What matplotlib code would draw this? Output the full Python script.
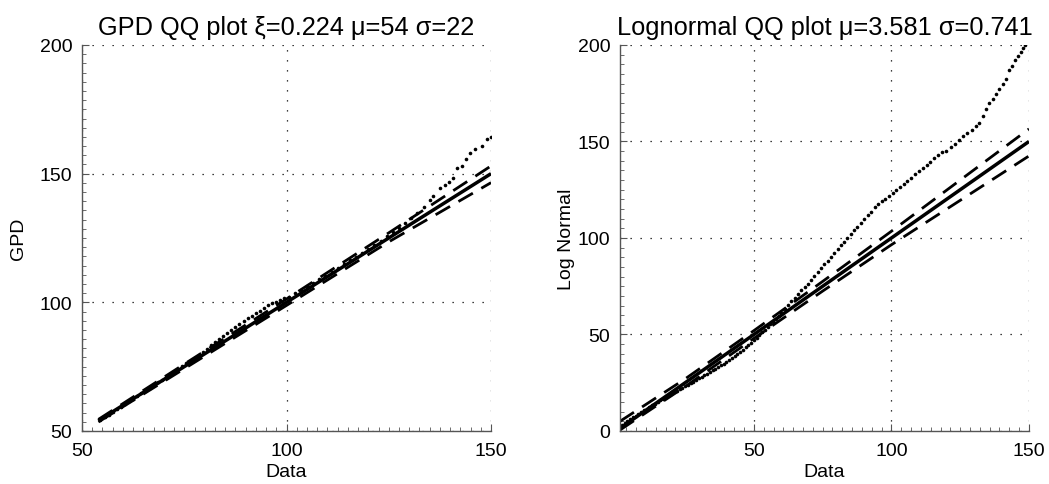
import matplotlib
matplotlib.use('Agg')
import matplotlib.pyplot as plt
from matplotlib.ticker import AutoMinorLocator

plt.rcParams['font.family'] = ['Liberation Sans', 'DejaVu Sans']

# GPD QQ plot: data quantiles vs fitted GPD quantiles
gpd_x = [54.5, 55.5, 56.5, 57.5, 58.5, 59.5, 60.5, 61.5, 62.5, 63.5, 64.5, 65.5,
         66.5, 67.5, 68.5, 69.5, 70.5, 71.5, 72.5, 73.5, 74.5, 75.5, 76.5, 77.5,
         78.5, 79.5, 80.5, 81.5, 82.5, 83.5, 84.5, 85.5, 86.5, 87.5, 88.5, 89.5,
         90.5, 91.5, 92.5, 93.5, 94.5, 95.5, 96.5, 97.5, 98.5, 99.5, 100.5, 102,
         103.5, 105, 106.5, 108, 109.5, 111, 112.5, 114, 115.5, 117, 118.5, 120,
         121.5, 123, 124.5, 126, 127.5, 129, 130.5, 132, 133.5, 135, 135.9, 137.5,
         138.8, 139.8, 140.8, 141.8, 142.8, 143.9, 144.9, 146.1, 147.7, 149, 150]
gpd_y = [54.3, 55.3, 56.4, 57.4, 58.5, 59.5, 60.6, 61.5, 62.6, 63.6, 64.7, 65.7,
         66.8, 67.8, 68.9, 70.0, 71.0, 72.1, 73.1, 74.1, 75.2, 76.3, 77.3, 78.5,
         79.6, 80.8, 82.0, 83.3, 84.6, 85.8, 87.0, 88.2, 89.4, 90.5, 91.6, 92.7,
         93.8, 94.8, 95.8, 96.8, 97.8, 98.8, 99.6, 100.3, 100.9, 101.5, 102.2, 103.5,
         104.8, 106.2, 107.6, 109.0, 110.4, 111.9, 113.4, 114.8, 116.3, 117.8, 119.3, 120.8,
         122.4, 124.0, 125.6, 127.3, 129.0, 130.8, 132.8, 134.8, 137.0, 139.6, 141.2, 144.3,
         145.6, 146.6, 148.2, 152.2, 153.0, 155.7, 158.0, 159.6, 160.9, 163.6, 164.3]
gpd_ref_x = [54, 150]
gpd_band_x = [54, 75, 100, 125, 150]
gpd_band_hi = [54.5, 76.0, 101.3, 127.0, 153.0]
gpd_band_lo = [53.5, 74.2, 98.8, 123.5, 146.5]

# Lognormal QQ plot
ln_x = [1.3, 2.2, 3.1, 4.0, 5.0, 6.0, 7.0, 8.0, 9.0, 10.0, 11.0, 12.0, 13.0, 14.0,
        15.0, 16.0, 17.0, 18.0, 19.0, 20.0, 21.0, 22.0, 23.0, 24.0, 25.0, 26.0, 27.0,
        28.0, 29.0, 30.0, 31.0, 32.0, 33.0, 34.0, 35.0, 36.0, 37.0, 38.0, 39.0, 40.0,
        41.0, 42.0, 43.0, 44.0, 45.0, 46.0, 47.0, 48.0, 49.0, 50.0, 51.0, 52.0, 53.0,
        54.0, 55.0, 56.0, 57.0, 58.0, 59.0, 60.0, 61.2, 62.4, 63.6, 64.8, 66.0, 67.2,
        68.4, 69.6, 70.8, 72.0, 73.2, 74.4, 75.6, 76.8, 78.0, 79.2, 80.4, 81.6, 82.8,
        84.0, 85.2, 86.4, 87.6, 88.8, 90.0, 91.3, 92.6, 93.9, 95.2, 96.5, 97.8, 99.1,
        100.4, 101.7, 103.0, 104.4, 105.8, 107.2, 108.6, 110.0, 111.4, 112.8, 114.2,
        115.6, 117.0, 118.5, 120.0, 121.5, 123.0, 124.5, 126.0, 127.6, 129.2, 130.8,
        132.0, 133.2, 134.4, 135.6, 136.8, 138.0, 139.2, 140.4, 141.5, 142.6, 143.7,
        144.8, 145.9, 147.0, 148.0, 148.7]
ln_y = [2.5, 3.3, 4.2, 5.1, 6.1, 7.1, 8.0, 8.9, 9.8, 10.7, 11.6, 12.5, 13.3, 14.2,
        15.0, 15.9, 16.7, 17.5, 18.4, 19.2, 20.0, 20.8, 21.6, 22.4, 23.2, 24.0, 24.8,
        25.6, 26.4, 27.2, 28.0, 28.8, 29.7, 30.5, 31.4, 32.2, 33.1, 34.0, 34.9, 35.9,
        36.9, 37.9, 38.9, 40.0, 41.1, 42.2, 43.4, 44.6, 45.8, 47.1, 48.4, 49.7, 51.1,
        52.5, 53.8, 55.2, 56.7, 58.1, 59.5, 61.0, 63.1, 65.3, 67.3, 69.0, 71.1, 72.9,
        74.6, 76.4, 78.4, 80.4, 82.4, 84.3, 86.3, 88.3, 90.3, 92.3, 94.3, 96.2, 98.1,
        100.1, 102.0, 103.9, 105.8, 107.7, 109.6, 111.7, 113.7, 115.8, 117.7, 119.1, 120.4, 121.7,
        123.2, 124.7, 126.3, 127.9, 129.5, 131.2, 132.9, 134.5, 136.2, 137.9, 139.6,
        141.3, 142.9, 144.3, 145.3, 146.9, 148.7, 150.8, 152.6, 154.4, 156.2, 158.0,
        159.7, 163.3, 167.0, 170.0, 172.2, 174.5, 177.4, 179.9, 182.5, 186.9, 189.3,
        192.3, 194.5, 196.6, 198.5, 199.8]
ln_ref_x = [1.3, 150]
ln_band_x = [1.3, 25, 50, 75, 100, 125, 150]
ln_band_hi = [5.0, 27.0, 52.0, 77.5, 103.5, 130.0, 156.5]
ln_band_lo = [0.5, 23.0, 48.0, 72.5, 96.5, 119.5, 142.5]

panels = [
    dict(x=gpd_x, y=gpd_y, ref=gpd_ref_x, bx=gpd_band_x, hi=gpd_band_hi, lo=gpd_band_lo,
         title='GPD QQ plot \u03be=0.224 \u03bc=54 \u03c3=22', ylabel='GPD', ylabelpad=9,
         xlim=(50, 150), ylim=(50, 200), xticks=[50, 100, 150],
         yticks=[50, 100, 150, 200], xminor=20, yminor=14),
    dict(x=ln_x, y=ln_y, ref=ln_ref_x, bx=ln_band_x, hi=ln_band_hi, lo=ln_band_lo,
         title='Lognormal QQ plot \u03bc=3.581 \u03c3=0.741', ylabel='Log Normal', ylabelpad=2,
         xlim=(1.3, 150), ylim=(0, 200), xticks=[50, 100, 150],
         yticks=[0, 50, 100, 150, 200], xminor=14, yminor=10),
]

fig = plt.figure(figsize=(10.49, 4.85), dpi=100)
rects = [[0.0782, 0.1093, 0.3899, 0.7959], [0.5910, 0.1093, 0.3899, 0.7959]]

for rect, p in zip(rects, panels):
    ax = fig.add_axes(rect)
    ax.plot(p['ref'], p['ref'], '-', color='black', lw=2.5, solid_capstyle='butt')
    ax.plot(p['bx'], p['hi'], color='black', lw=2.0, dashes=(6, 3.5))
    ax.plot(p['bx'], p['lo'], color='black', lw=2.0, dashes=(6, 3.5))
    ax.plot(p['x'], p['y'], linestyle='none', marker='o', ms=2.6,
            mfc='black', mec='black', mew=0)
    ax.set_xlim(*p['xlim'])
    ax.set_ylim(*p['ylim'])
    ax.set_xticks(p['xticks'])
    ax.set_yticks(p['yticks'])
    ax.xaxis.set_minor_locator(AutoMinorLocator(p['xminor']))
    ax.yaxis.set_minor_locator(AutoMinorLocator(p['yminor']))
    ax.grid(True, which='major', color='black', lw=0.9, dashes=(1, 7))
    ax.set_axisbelow(True)
    for side in ['top', 'right']:
        ax.spines[side].set_visible(False)
    for side in ['left', 'bottom']:
        ax.spines[side].set_color('#555555')
        ax.spines[side].set_linewidth(1.0)
    ax.tick_params(which='both', direction='in', colors='#555555',
                   labelcolor='black', labelsize=14)
    ax.tick_params(axis='x', pad=8)
    ax.tick_params(axis='y', pad=7)
    ax.tick_params(which='major', length=5)
    ax.tick_params(which='minor', length=3)
    ax.set_title(p['title'], fontsize=18.3, pad=8)
    ax.set_xlabel('Data', fontsize=14, labelpad=3)
    ax.set_ylabel(p['ylabel'], fontsize=14, labelpad=p['ylabelpad'])

fig.savefig('out.png', dpi=100)
